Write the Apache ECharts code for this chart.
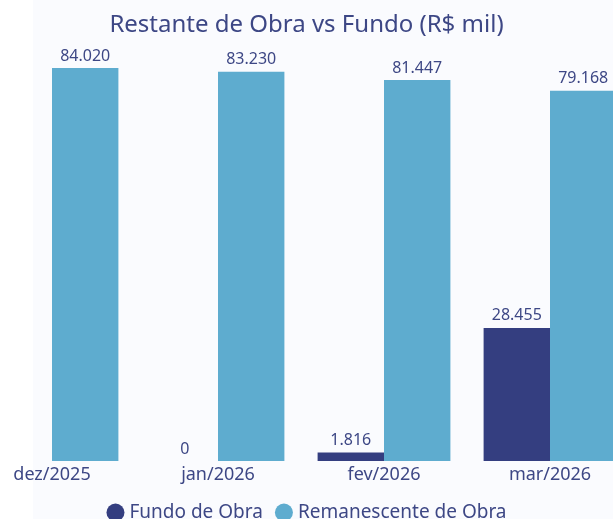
<!DOCTYPE html>
<html>
<head>
<meta charset="utf-8">
<script src="https://cdn.jsdelivr.net/npm/echarts@6/dist/echarts.min.js"></script>
<style>
  html, body { margin: 0; padding: 0; background: #fafbfe; }
  #chart { width: 613px; height: 519px; }
</style>
</head>
<body>
<div id="chart"></div>
<script>
const months = ['dez/2025', 'jan/2026', 'fev/2026', 'mar/2026']
const fundoObra = [null, 0, 1816, 28455]
const remanescente = [84020, 83230, 81447, 79168]

const textColor = '#3d4785'
const fontFamily = '"Noto Sans", "Open Sans", sans-serif'

// formato pt-BR: 84.020
const fmt = v => (v == null ? '' : Number(v).toLocaleString('pt-BR'))

const chart = echarts.init(document.getElementById('chart'), null, { renderer: 'canvas' })

chart.setOption({
  backgroundColor: '#fafbfe',
  textStyle: { fontFamily },
  graphic: [
    { type: 'rect', left: 0, top: 0, shape: { width: 33, height: 519 }, style: { fill: '#ffffff' }, z: -10 },
  ],
  title: {
    text: 'Restante de Obra vs Fundo (R$ mil)',
    left: 'center',
    top: 8,
    textStyle: { color: textColor, fontSize: 24, fontWeight: 'normal', fontFamily },
  },
  legend: {
    bottom: -8,
    left: 'center',
    icon: 'circle',
    itemWidth: 18, itemHeight: 18,
    itemGap: 12,
    textStyle: { color: textColor, fontSize: 19, fontFamily },
    data: ['Fundo de Obra', 'Remanescente de Obra'],
  },
  grid: { top: 68, bottom: 58, left: -31, right: -20, outerBoundsMode: 'none' },
  xAxis: {
    type: 'category',
    data: months,
    axisLine: { show: false },
    axisTick: { show: false },
    axisLabel: { color: textColor, fontSize: 18, margin: 5, fontFamily },
  },
  yAxis: {
    type: 'value',
    min: 0,
    max: 84020,
    show: false,
    splitLine: { show: false },
  },
  series: [
    {
      name: 'Fundo de Obra',
      type: 'bar',
      data: fundoObra,
      barGap: '0%',
      barCategoryGap: '20%',
      itemStyle: { color: '#343e80' },
      label: {
        show: true, position: 'top', distance: 4,
        color: textColor, fontSize: 16, fontFamily,
        formatter: p => fmt(p.value),
      },
    },
    {
      name: 'Remanescente de Obra',
      type: 'bar',
      data: remanescente,
      barGap: '0%',
      barCategoryGap: '20%',
      itemStyle: { color: '#5eaccf' },
      label: {
        show: true, position: 'top', distance: 4,
        color: textColor, fontSize: 16, fontFamily,
        formatter: p => fmt(p.value),
      },
    },
  ],
})
</script>
</body>
</html>
